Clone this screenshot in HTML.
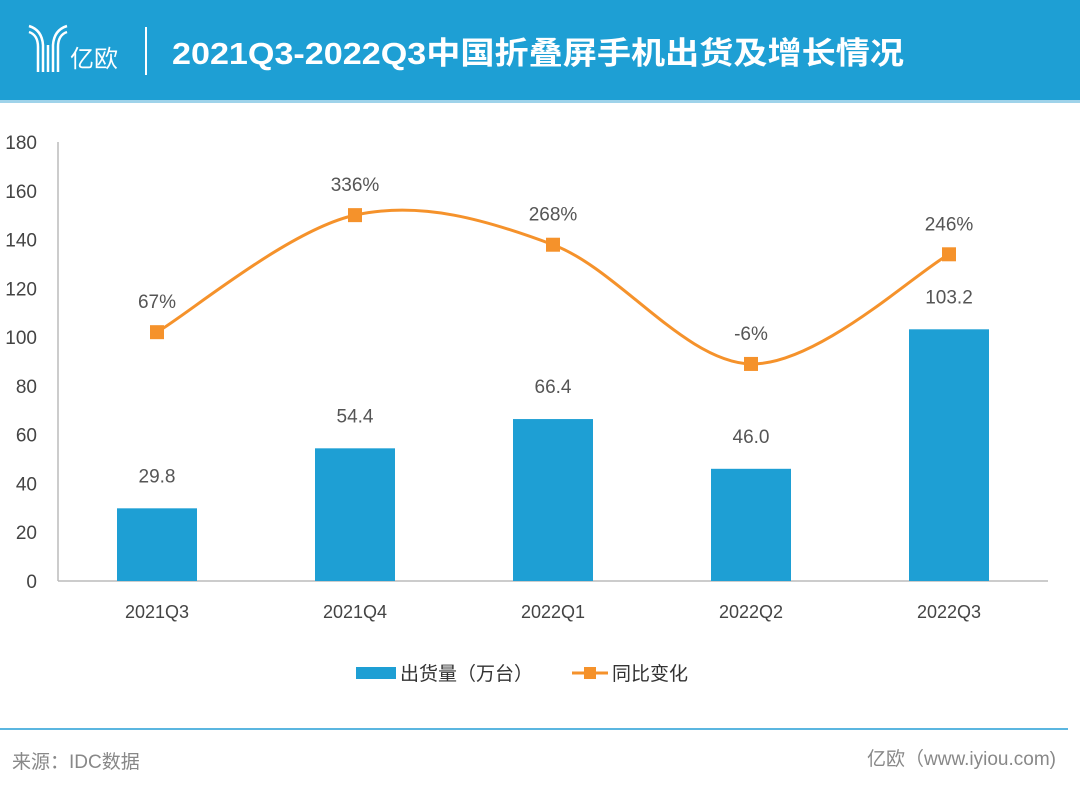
<!DOCTYPE html>
<html><head><meta charset="utf-8"><style>
body{margin:0;width:1080px;height:786px;background:#fff;overflow:hidden;font-family:"Liberation Sans","Noto Sans CJK SC",sans-serif}
#hdr{position:absolute;left:0;top:0;width:1080px;height:100px;background:#1e9fd4}
#hdr2{position:absolute;left:0;top:100px;width:1080px;height:3px;background:#9fd3ea}
</style></head><body>
<div id="hdr"></div>
<div id="hdr2"></div>
<svg width="1080" height="786" style="position:absolute;left:0;top:0" id="svg">
<g stroke="#fff" fill="none" stroke-width="2.5">
<path d="M29 26 Q42 30 43 45 L43 72 M29 32 Q38 35 38 47 L38 72 M67 26 Q54 30 53 45 L53 72 M67 32 Q58 35 58 47 L58 72 M48 45 L48 72"/>
</g>
<text x="70" y="67" fill="#fff" font-size="24">亿欧</text>
<rect x="145" y="27" width="2" height="48" fill="#fff"/>
<text x="172" y="64" fill="#fff" font-size="31" font-weight="bold" textLength="732" lengthAdjust="spacingAndGlyphs">2021Q3-2022Q3中国折叠屏手机出货及增长情况</text>
<g id="chart"></g>
<g>
<rect x="356" y="667" width="40" height="12" fill="#1e9fd4"/>
<text x="400" y="680" font-size="19" fill="#333">出货量（万台）</text>
<line x1="572" y1="673" x2="608" y2="673" stroke="#f5922b" stroke-width="3"/>
<rect x="584" y="667" width="12" height="12" fill="#f5922b"/>
<text x="612" y="680" font-size="19" fill="#333">同比变化</text>
</g>
<rect x="0" y="728" width="1068" height="2" fill="#5bb6e0"/>
<text x="12" y="768" font-size="19" fill="#888">来源：IDC数据</text>
<text x="1056" y="765" font-size="19" fill="#888" text-anchor="end">亿欧（www.iyiou.com)</text>
</svg>
<script>
const categories=["2021Q3","2021Q4","2022Q1","2022Q2","2022Q3"];
const shipments=[29.8,54.4,66.4,46.0,103.2];
const growthPct=[67,336,268,-6,246];
const growthLabels=["67%","336%","268%","-6%","246%"];
const yTicks=[0,20,40,60,80,100,120,140,160,180];
const NS="http://www.w3.org/2000/svg";
const g=document.getElementById('chart');
const x0=58,x1=1048,yb=581,yt=142;
const step=(x1-x0)/categories.length;
const xc=i=>x0+step*(i+0.5);
const y=v=>yb-(v/180)*(yb-yt);
const y2=p=>y(90.07+0.1784*p);
function mk(t,a){const e=document.createElementNS(NS,t);for(const k in a)e.setAttribute(k,a[k]);g.appendChild(e);return e;}
let e=mk('line',{x1:x0,y1:yt,x2:x0,y2:yb,stroke:'#bbb','stroke-width':1.5});


e=mk('line',{x1:x0,y1:yb,x2:x1,y2:yb,stroke:'#bbb','stroke-width':1.5});


yTicks.forEach(t=>{const el=mk('text',{x:37,y:y(t)+7,'font-size':19,fill:'#444','text-anchor':'end'});el.textContent=t;

});
categories.forEach((c,i)=>{
const b=mk('rect',{x:xc(i)-40,y:y(shipments[i]),width:80,height:yb-y(shipments[i]),fill:'#1e9fd4'});


const l=mk('text',{x:xc(i),y:y(shipments[i])-26,'font-size':19,fill:'#555','text-anchor':'middle'});l.textContent=shipments[i].toFixed(1);


const xl=mk('text',{x:xc(i),y:618,'font-size':18,fill:'#444','text-anchor':'middle'});xl.textContent=c;


});
const pts=growthPct.map((p,i)=>[xc(i),y2(p)]);
let d='M'+pts[0][0]+' '+pts[0][1];
for(let i=0;i<pts.length-1;i++){const p0=pts[Math.max(0,i-1)],p1=pts[i],p2=pts[i+1],p3=pts[Math.min(pts.length-1,i+2)];
const c1=[p1[0]+(p2[0]-p0[0])/6,p1[1]+(p2[1]-p0[1])/6],c2=[p2[0]-(p3[0]-p1[0])/6,p2[1]-(p3[1]-p1[1])/6];
d+=` C${c1[0]} ${c1[1]} ${c2[0]} ${c2[1]} ${p2[0]} ${p2[1]}`;}
const ln=mk('path',{d:d,fill:'none',stroke:'#f5922b','stroke-width':3});


pts.forEach((p,i)=>{const m=mk('rect',{x:p[0]-7,y:p[1]-7,width:14,height:14,fill:'#f5922b'});


const t=mk('text',{x:p[0],y:p[1]-24,'font-size':19,fill:'#555','text-anchor':'middle'});t.textContent=growthLabels[i];

});
</script>
</body></html>
